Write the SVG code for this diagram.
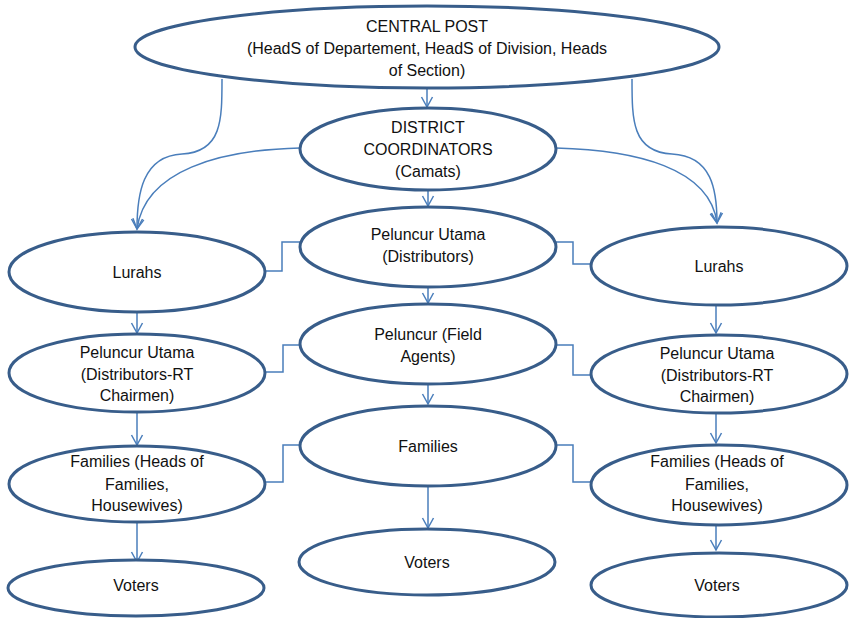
<svg xmlns="http://www.w3.org/2000/svg" width="849" height="618" viewBox="0 0 849 618">
<defs>
<style>
.n{fill:#fff;stroke:#385d8a;stroke-width:3}
.t{font-family:"Liberation Sans",Arial,sans-serif;font-size:16px;fill:#111;text-anchor:middle}
.c{fill:none;stroke:#4a7ebb;stroke-width:1.5}
.a{marker-end:url(#ah)}
</style>
<marker id="ah" markerUnits="userSpaceOnUse" markerWidth="14" markerHeight="14" refX="11" refY="6" orient="auto" viewBox="0 0 14 12">
<path d="M1,0.5 L11,6 L1,11.5" fill="none" stroke="#4a7ebb" stroke-width="1.5"/>
</marker>
</defs>
<rect width="849" height="618" fill="#fff"/>
<g id="connectors">
<path class="c a" d="M427,89 V107"/>
<path class="c a" d="M428,191 V206"/>
<path class="c a" d="M428,288 V303"/>
<path class="c a" d="M428,385 V404"/>
<path class="c a" d="M428,487 V528"/>
<path class="c a" d="M137,313 V333"/>
<path class="c a" d="M137,413 V445"/>
<path class="c a" d="M137,523 V562"/>
<path class="c a" d="M716,306 V333"/>
<path class="c a" d="M716,414 V443"/>
<path class="c a" d="M716,526 V550"/>
<path class="c a" d="M222,79 C222,120 222,152 182,154 C142,156 137,195 137,229"/>
<path class="c a" d="M300,148 C220,150 145,170 137,229"/>
<path class="c a" d="M632,79 C632,120 632,152 672,154 C712,156 717,190 717,223"/>
<path class="c a" d="M556,148 C636,150 710,168 717,223"/>
<path class="c" d="M300,242 H282 V271 H265"/>
<path class="c" d="M556,242 H573 V264 H592"/>
<path class="c" d="M300,345 H283 V372 H265"/>
<path class="c" d="M556,345 H573 V375 H592"/>
<path class="c" d="M300,445 H283 V482 H265"/>
<path class="c" d="M556,445 H573 V482 H592"/>
</g>
<g id="central">
<ellipse class="n" cx="427" cy="47" rx="292" ry="41"/>
<text class="t" x="427" y="32">CENTRAL POST</text>
<text class="t" x="427" y="54">(HeadS of Departement, HeadS of Division, Heads</text>
<text class="t" x="427" y="76">of Section)</text>
</g>
<g id="district">
<ellipse class="n" cx="428" cy="149" rx="128" ry="41"/>
<text class="t" x="428" y="133">DISTRICT</text>
<text class="t" x="428" y="155">COORDINATORS</text>
<text class="t" x="428" y="177">(Camats)</text>
</g>
<g id="pu-center">
<ellipse class="n" cx="428" cy="247" rx="128" ry="40"/>
<text class="t" x="428" y="240">Peluncur Utama</text>
<text class="t" x="428" y="262">(Distributors)</text>
</g>
<g id="p-center">
<ellipse class="n" cx="428" cy="344" rx="128" ry="40"/>
<text class="t" x="428" y="340">Peluncur (Field</text>
<text class="t" x="428" y="362">Agents)</text>
</g>
<g id="fam-center">
<ellipse class="n" cx="428" cy="446" rx="128" ry="40"/>
<text class="t" x="428" y="452">Families</text>
</g>
<g id="voters-center">
<ellipse class="n" cx="427" cy="562" rx="128" ry="33"/>
<text class="t" x="427" y="568">Voters</text>
</g>
<g id="lurahs-left">
<ellipse class="n" cx="137" cy="272" rx="128" ry="40"/>
<text class="t" x="137" y="278">Lurahs</text>
</g>
<g id="pu-left">
<ellipse class="n" cx="137" cy="373" rx="128" ry="39"/>
<text class="t" x="137" y="358">Peluncur Utama</text>
<text class="t" x="137" y="380">(Distributors-RT</text>
<text class="t" x="137" y="401">Chairmen)</text>
</g>
<g id="fam-left">
<ellipse class="n" cx="137" cy="484" rx="128" ry="38"/>
<text class="t" x="137" y="467">Families (Heads of</text>
<text class="t" x="137" y="490">Families,</text>
<text class="t" x="137" y="511">Housewives)</text>
</g>
<g id="voters-left">
<ellipse class="n" cx="136" cy="588" rx="128" ry="28"/>
<text class="t" x="136" y="591">Voters</text>
</g>
<g id="lurahs-right">
<ellipse class="n" cx="719" cy="266" rx="128" ry="39"/>
<text class="t" x="719" y="272">Lurahs</text>
</g>
<g id="pu-right">
<ellipse class="n" cx="719" cy="374" rx="128" ry="39"/>
<text class="t" x="717" y="359">Peluncur Utama</text>
<text class="t" x="717" y="381">(Distributors-RT</text>
<text class="t" x="717" y="402">Chairmen)</text>
</g>
<g id="fam-right">
<ellipse class="n" cx="719" cy="485" rx="128" ry="40"/>
<text class="t" x="717" y="467">Families (Heads of</text>
<text class="t" x="717" y="490">Families,</text>
<text class="t" x="717" y="511">Housewives)</text>
</g>
<g id="voters-right">
<ellipse class="n" cx="719" cy="585" rx="128" ry="32"/>
<text class="t" x="717" y="591">Voters</text>
</g>
</svg>
